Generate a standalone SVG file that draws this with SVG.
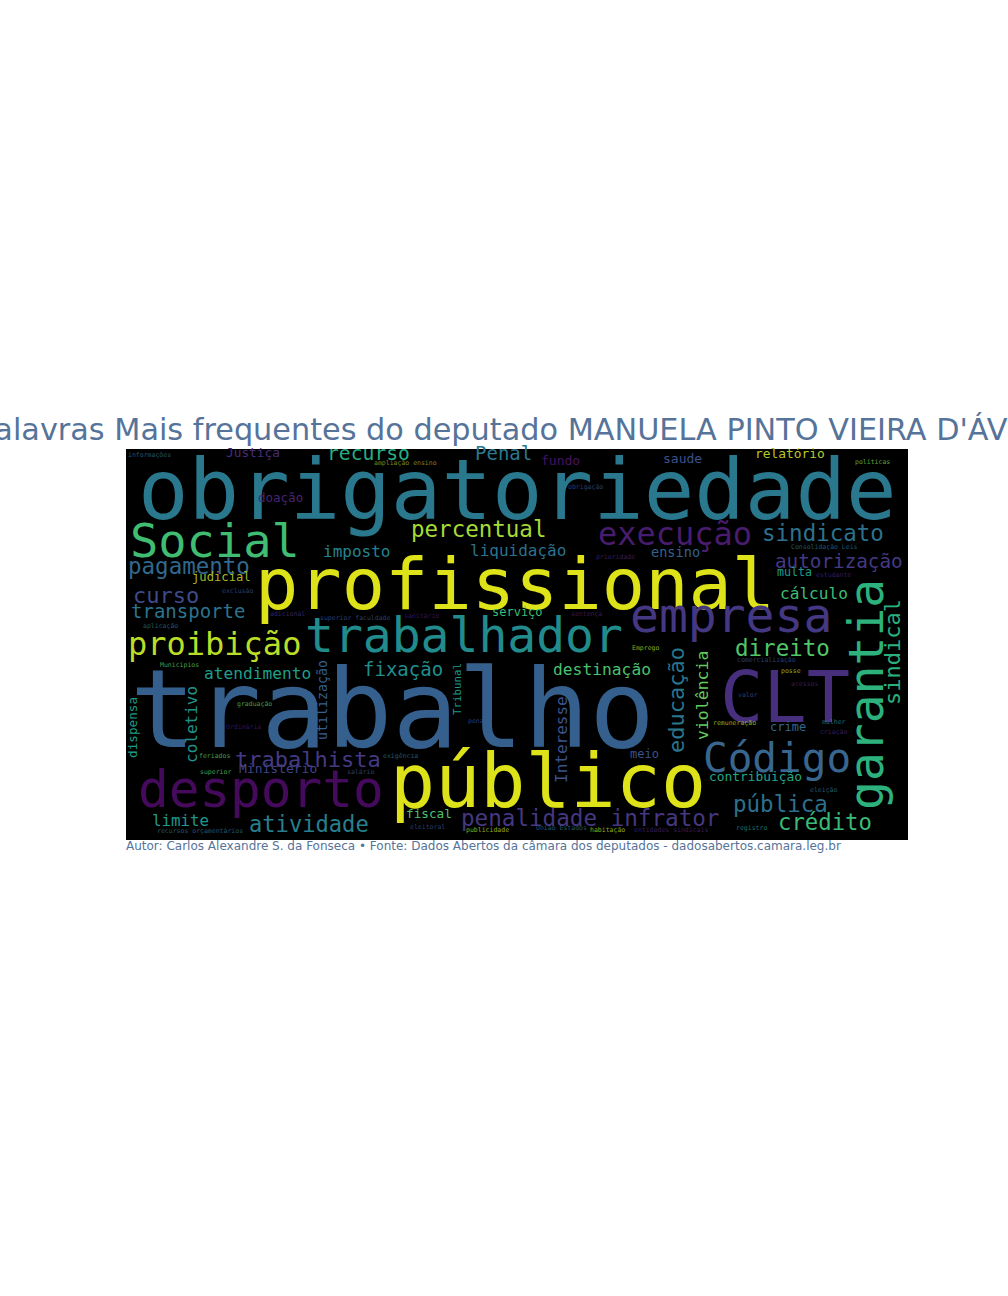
<svg xmlns="http://www.w3.org/2000/svg" width="1008" height="1296" viewBox="0 0 1008 1296">
<style>
.w{font-family:"DejaVu Sans Mono","Liberation Mono",monospace}
.t{font-family:"DejaVu Sans","Open Sans",sans-serif;fill:#56739a}
.s{font-size:6.5px;opacity:0.75}
</style>
<rect width="1008" height="1296" fill="#ffffff"/>
<g id="title"><text class="t" x="516" y="440" font-size="30.3" text-anchor="middle">Palavras Mais frequentes do deputado MANUELA PINTO VIEIRA D'ÁVILA</text></g>
<g id="cloud">
<rect x="126" y="449" width="782" height="391" fill="#000000"/>
<g class="w">
<text x="138" y="519" font-size="84" fill="#2a788e">obrigatoriedade</text>
<text x="255" y="609" font-size="72" fill="#dde318">profissional</text>
<text x="130" y="747" font-size="109" fill="#35608d">trabalho</text>
<text x="390" y="807" font-size="75" fill="#dde318">público</text>
<text x="138" y="807" font-size="51" fill="#450a5c">desporto</text>
<text x="305" y="652" font-size="48" fill="#228c8d">trabalhador</text>
<text x="630" y="632" font-size="48" fill="#453882">empresa</text>
<text x="720" y="722" font-size="72" fill="#472f7d">CLT</text>
<text transform="translate(883,810) rotate(-90)" font-size="48" fill="#2db27d">garantia</text>
<text x="130" y="557" font-size="47" fill="#40bd72">Social</text>
<text x="703" y="772" font-size="41" fill="#39668e">Código</text>
<text x="598" y="545" font-size="32" fill="#481c6e">execução</text>
<text x="128" y="655" font-size="32" fill="#bade28">proibição</text>
<text x="762" y="541" font-size="22.5" fill="#2c728e">sindicato</text>
<text x="411" y="537" font-size="22.5" fill="#a5db36">percentual</text>
<text x="128" y="574" font-size="22.5" fill="#31688e">pagamento</text>
<text x="775" y="568" font-size="19.3" fill="#443983">autorização</text>
<text transform="translate(900,705) rotate(-90)" font-size="22" fill="#2ab07f">sindical</text>
<text transform="translate(684,753) rotate(-90)" font-size="22" fill="#2a768e">educação</text>
<text transform="translate(708,740) rotate(-90)" font-size="16.5" fill="#63cb5f">violência</text>
<text transform="translate(567,783) rotate(-90)" font-size="16" fill="#3b528b">Interesse</text>
<text transform="translate(197,763) rotate(-90)" font-size="16" fill="#20928c">coletivo</text>
<text transform="translate(137,758) rotate(-90)" font-size="12.7" fill="#1f9e89">dispensa</text>
<text transform="translate(327,740) rotate(-90)" font-size="13.3" fill="#355f8d">utilização</text>
<text transform="translate(461,715) rotate(-90)" font-size="10.8" fill="#1f998a">Tribunal</text>
<text x="735" y="656" font-size="22.5" fill="#52c569">direito</text>
<text x="780" y="599" font-size="16.1" fill="#3dbc74">cálculo</text>
<text x="323" y="557" font-size="16" fill="#25838e">imposto</text>
<text x="470" y="556" font-size="16" fill="#2c718e">liquidação</text>
<text x="651" y="557" font-size="13.6" fill="#33638d">ensino</text>
<text x="133" y="603" font-size="22" fill="#3e4a89">curso</text>
<text x="131" y="618" font-size="19" fill="#2c738e">transporte</text>
<text x="327" y="460" font-size="19.7" fill="#27ad81">recurso</text>
<text x="475" y="460" font-size="19" fill="#2a788e">Penal</text>
<text x="541" y="465" font-size="13" fill="#471365">fundo</text>
<text x="663" y="463" font-size="13" fill="#3b528b">saude</text>
<text x="755" y="458" font-size="12.9" fill="#b8c92a">relatório</text>
<text x="226" y="457" font-size="12.8" fill="#472c7a">Justiça</text>
<text x="258" y="502" font-size="12.5" fill="#482475">doação</text>
<text x="777" y="576" font-size="11.6" fill="#1f9a8a">multa</text>
<text x="192" y="581" font-size="12.2" fill="#a8b82a">judicial</text>
<text x="492" y="616" font-size="12" fill="#3dbc74">serviço</text>
<text x="204" y="679" font-size="16.2" fill="#1f9f88">atendimento</text>
<text x="363" y="676" font-size="19" fill="#218f8d">fixação</text>
<text x="553" y="675" font-size="16.3" fill="#4ac16d">destinação</text>
<text x="770" y="731" font-size="12" fill="#31688e">crime</text>
<text x="235" y="767" font-size="22" fill="#443a83">trabalhista</text>
<text x="630" y="758" font-size="12" fill="#3b528b">meio</text>
<text x="239" y="773" font-size="13" fill="#414487">Ministério</text>
<text x="709" y="781" font-size="12.9" fill="#22a785">contribuição</text>
<text x="733" y="812" font-size="22.5" fill="#2d708e">pública</text>
<text x="461" y="826" font-size="22.6" fill="#453781">penalidade infrator</text>
<text x="778" y="830" font-size="22.3" fill="#3aba76">crédito</text>
<text x="152" y="826" font-size="15.8" fill="#1f968b">limite</text>
<text x="249" y="832" font-size="22.1" fill="#277f8e">atividade</text>
<text x="406" y="818" font-size="12.7" fill="#4cc26c">fiscal</text>
<text class="s" x="128" y="457" fill="#2c728e">informações</text>
<text class="s" x="374" y="465" fill="#a0b02a">ampliação ensino</text>
<text class="s" x="855" y="464" fill="#7ad151">políticas</text>
<text class="s" x="568" y="489" fill="#3b528b">obrigação</text>
<text class="s" x="791" y="549" fill="#2c728e">Consolidação Leis</text>
<text class="s" x="596" y="559" fill="#482475">prioridade</text>
<text class="s" x="816" y="577" fill="#482475">estudante</text>
<text class="s" x="222" y="593" fill="#3b528b">exclusão</text>
<text class="s" x="571" y="616" fill="#482475">sentença</text>
<text class="s" x="270" y="616" fill="#46307e">adicional</text>
<text class="s" x="320" y="620" fill="#3b528b">superior faculdade</text>
<text class="s" x="404" y="618" fill="#481a6c">sanitário</text>
<text class="s" x="143" y="628" fill="#2c728e">aplicação</text>
<text class="s" x="160" y="667" fill="#5ec962">Municípios</text>
<text class="s" x="632" y="650" fill="#bddf26">Emprego</text>
<text class="s" x="737" y="662" fill="#3b528b">comercialização</text>
<text class="s" x="781" y="673" fill="#bddf26">posse</text>
<text class="s" x="791" y="686" fill="#482475">acessos</text>
<text class="s" x="738" y="697" fill="#3b528b">valor</text>
<text class="s" x="237" y="706" fill="#5ec962">graduação</text>
<text class="s" x="226" y="729" fill="#481a6c">Ordinária</text>
<text class="s" x="468" y="723" fill="#3b528b">pena</text>
<text class="s" x="713" y="725" fill="#bddf26">remuneração</text>
<text class="s" x="822" y="724" fill="#21918c">mulher</text>
<text class="s" x="820" y="734" fill="#482475">criação</text>
<text class="s" x="199" y="758" fill="#5ec962">feriados</text>
<text class="s" x="383" y="758" fill="#2c728e">exigência</text>
<text class="s" x="200" y="774" fill="#5ec962">superior</text>
<text class="s" x="347" y="774" fill="#3b528b">salário</text>
<text class="s" x="810" y="792" fill="#2c728e">eleição</text>
<text class="s" x="410" y="829" fill="#3b528b">eleitoral</text>
<text class="s" x="157" y="833" fill="#2c728e">recursos orçamentários</text>
<text class="s" x="466" y="832" fill="#bddf26">publicidade</text>
<text class="s" x="536" y="830" fill="#2c728e">União Estados</text>
<text class="s" x="590" y="832" fill="#bddf26">habitação</text>
<text class="s" x="634" y="832" fill="#482475">entidades sindicais</text>
<text class="s" x="736" y="830" fill="#21918c">registro</text>
</g>
</g>
<g id="caption"><text class="t" x="126" y="850" font-size="12">Autor: Carlos Alexandre S. da Fonseca • Fonte: Dados Abertos da câmara dos deputados - dadosabertos.camara.leg.br</text></g>
</svg>
